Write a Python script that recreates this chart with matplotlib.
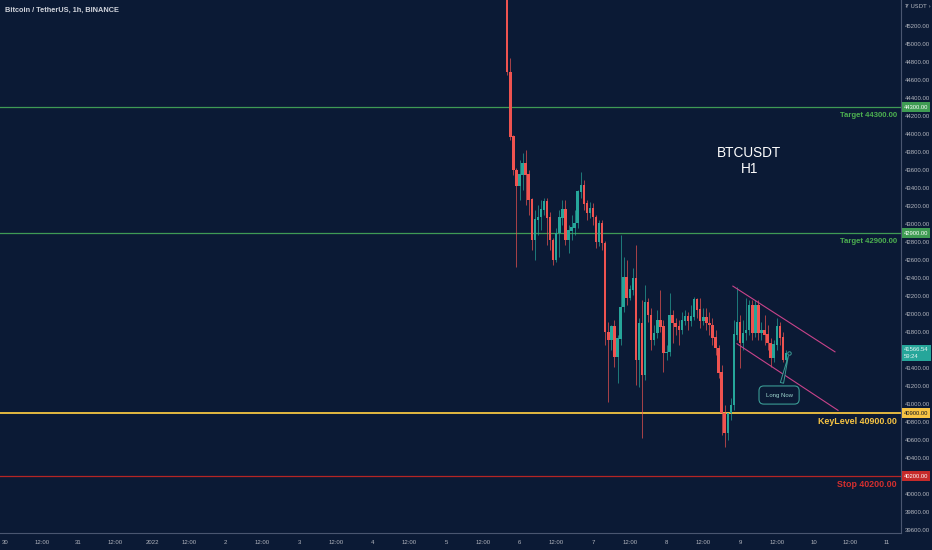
import numpy as np
import pandas as pd
import matplotlib
matplotlib.use("Agg")
import matplotlib.pyplot as plt
import matplotlib.dates as mdates
import matplotlib.transforms as mtransforms

# BTCUSDT 1h candles, Jan 5 20:00 -> Jan 9 15:00
first_open = 45820
closes = [44690, 43970, 43600, 43430, 43550, 43680, 43550, 43270, 42820, 43050,
          43080, 43160, 43250, 43070, 42820, 42600, 42900, 43070, 43160, 42820,
          42930, 42960, 43010, 43360, 43430, 43230, 43120, 43180, 43080, 42800,
          43010, 42790, 41800, 41710, 41860, 41520, 41730, 42080, 42410, 42180,
          42270, 42400, 41490, 41900, 41320, 42130, 41990, 41710, 41790, 41930,
          41860, 41570, 41580, 41990, 41900, 41860, 41820, 41930, 41970, 41930,
          41970, 42160, 42050, 41930, 41960, 41900, 41880, 41740, 41620, 41350,
          40900, 40680, 40900, 40990, 41770, 41910, 41680, 41790, 41820, 42100,
          41790, 42100, 41790, 41820, 41770, 41680, 41510, 41660, 41860, 41740,
          41490, 41566.54]
highs = [45930, 44850, 43990, 43620, 43710, 43790, 43820, 43600, 43290, 43160,
         43210, 43270, 43290, 43290, 43130, 42850, 42960, 43160, 43270, 43270,
         42990, 43100, 43160, 43380, 43580, 43490, 43270, 43250, 43230, 43100,
         43050, 43050, 42810, 41910, 41880, 41930, 41770, 42880, 42630, 42600,
         42320, 42510, 42770, 41960, 42160, 42320, 42180, 42070, 41880, 42050,
         42270, 41930, 41660, 42230, 42050, 41960, 41930, 42020, 42050, 42020,
         42100, 42190, 42180, 42180, 42070, 42070, 42020, 41960, 41820, 41660,
         41430, 40990, 40880, 41070, 41930, 42300, 41990, 41930, 42180, 42160,
         42160, 42160, 42160, 41910, 41990, 41880, 41730, 41710, 41960, 41910,
         41800, 41600]
lows = [44660, 43930, 43550, 42520, 43270, 43380, 43210, 43100, 42710, 42600,
        42880, 42930, 43100, 42770, 42710, 42550, 42580, 42630, 42990, 42770,
        42680, 42820, 42880, 42960, 43290, 43160, 43050, 43070, 42990, 42730,
        42760, 42710, 41660, 41020, 41600, 41410, 41230, 41660, 42020, 42100,
        42160, 42210, 41210, 41190, 40620, 41270, 41910, 41600, 41660, 41730,
        41800, 41360, 41490, 41530, 41680, 41770, 41660, 41780, 41880, 41820,
        41870, 41930, 41960, 41850, 41880, 41820, 41770, 41660, 41540, 41290,
        40660, 40520, 40600, 40820, 40930, 41710, 41400, 41600, 41710, 41770,
        41710, 41740, 41710, 41710, 41660, 41600, 41410, 41470, 41600, 41660,
        41470, 41470]
start_time = "2022-01-05 20:00"

# horizontal levels
level_prices = [44300, 42900, 40900, 40200]
level_labels = ["Target 44300.00", "Target 42900.00", "KeyLevel 40900.00", "Stop 40200.00"]
level_line_colors = ["#3f9a55", "#3f9a55", "#f4c542", "#b52525"]
level_text_colors = ["#4caf50", "#4caf50", "#f6c343", "#d32f2f"]
level_tag_bg = ["#3f9c53", "#3f9c53", "#f6c343", "#c62a2a"]
level_tag_fg = ["#ffffff", "#ffffff", "#131722", "#ffffff"]

# descending channel drawn on the chart (time, price)
channel_top = [("2022-01-08 21:40", 42310), ("2022-01-10 07:00", 41580)]
channel_bot = [("2022-01-08 23:00", 41670), ("2022-01-10 08:00", 40930)]

day_labels = ["30", "31", "2022", "2", "3", "4", "5", "6", "7", "8", "9", "10", "11"]
axis_start = pd.Timestamp("2021-12-30")
hidden_ticks = [41600, 40200]   # covered by the price tags

BG = "#0b1a35"
UP = "#26a69a"
DOWN = "#ef5350"
TXT = "#b2b5be"
FONT = ["Liberation Sans", "DejaVu Sans"]

times = pd.date_range(start_time, periods=len(closes), freq="h")
xs = mdates.date2num(times)
closes = np.array(closes)
opens = np.r_[first_open, closes[:-1]]
highs = np.array(highs)
lows = np.array(lows)

fig = plt.figure(figsize=(9.32, 5.5), dpi=100, facecolor=BG)
ax = fig.add_axes([0, 17 / 550, 901 / 932, 533 / 550], facecolor=BG)

up = closes >= opens
colors = np.where(up, UP, DOWN)
bw = 0.8 / 24
ax.vlines(xs, lows, highs, colors=colors, linewidth=0.6, alpha=0.8, zorder=3)
ax.bar(xs, np.abs(closes - opens) + 6, bottom=np.minimum(opens, closes) - 3,
       width=bw, color=colors, linewidth=0, zorder=4)

# level lines, labels and price tags
blend = mtransforms.blended_transform_factory(ax.transAxes, ax.transData)
for price, label, lc, tc, tbg, tfg in zip(level_prices, level_labels, level_line_colors,
                                          level_text_colors, level_tag_bg, level_tag_fg):
    big = not label.startswith("Target")
    ax.axhline(price, color=lc, linewidth=1.3 if label.startswith("KeyLevel") else 0.9, zorder=2)
    ax.annotate(label, xy=(0.9956, price), xycoords=blend, xytext=(0, -6),
                textcoords="offset points", ha="right", va="center", color=tc,
                fontsize=6.4 if big else 5.6, fontweight="bold", family=FONT)
    ax.text(1.0033, price, f"{price:.2f}", transform=blend, ha="left", va="center",
            fontsize=4.2, color=tfg, zorder=6, clip_on=False, family=FONT,
            bbox=dict(boxstyle="square,pad=0.35", fc=tbg, ec="none"))

# current price tag
last = closes[-1]
ax.text(1.0033, last, f"{last:.2f}\n59:24", transform=blend, ha="left", va="center",
        fontsize=4.2, color="#e8f5f3", linespacing=1.3, clip_on=False, zorder=6,
        family=FONT, bbox=dict(boxstyle="square,pad=0.4", fc=UP, ec="none"))

# channel lines
for seg in (channel_top, channel_bot):
    tx = mdates.date2num(pd.to_datetime([p[0] for p in seg]))
    ax.plot(tx, [p[1] for p in seg], color="#c8438a", linewidth=0.8, zorder=5)

# Long Now callout
tip = (xs[-1] + 1 / 24, last)
ax.annotate("Long Now", xy=tip,
            xytext=(mdates.date2num(pd.Timestamp("2022-01-09 12:45")), 41100),
            ha="center", va="center", fontsize=4.3, color="#9fd8d0", zorder=7,
            family=FONT,
            bbox=dict(boxstyle="round,pad=1.1,rounding_size=0.8", fc=BG, ec="#3a9a94", lw=0.8),
            arrowprops=dict(arrowstyle="wedge,tail_width=0.55,shrink_factor=0.5",
                            fc=BG, ec="#3a9a94", lw=0.7))
ax.plot(*tip, marker="o", markersize=2.5, mfc=BG, mec="#3a9a94", mew=0.7, zorder=8)

# symbol text
ax.text(mdates.date2num(pd.Timestamp("2022-01-09 03:00")), 43700, "BTCUSDT\nH1",
        ha="center", va="center", fontsize=9.8, color="#ffffff",
        linespacing=1.1, family=FONT)

fig.text(5 / 932, 1 - 10 / 550, "Bitcoin / TetherUS, 1h, BINANCE", fontsize=5.3,
         color="#d1d4dc", ha="left", va="center", fontweight="bold", family=FONT)

# axes
x0 = mdates.date2num(axis_start)
ax.set_xlim(x0 - 0.068, x0 + 12.19)
ax.set_ylim(39567, 45489)

days = [axis_start + pd.Timedelta(days=d) for d in range(len(day_labels))]
ticks, labels = [], []
for d, lab in zip(days, day_labels):
    ticks += [mdates.date2num(d), mdates.date2num(d + pd.Timedelta(hours=12))]
    labels += [lab, "12:00"]
ax.set_xticks(ticks[:-1])
ax.set_xticklabels(labels[:-1])

ax.yaxis.tick_right()
yt = np.arange(39600, 45201, 200)
ax.set_yticks(yt)
ax.set_yticklabels(["" if v in hidden_ticks else f"{v:.2f}" for v in yt])
ax.tick_params(axis="both", length=0, labelsize=4.3, colors=TXT)
ax.tick_params(axis="x", pad=5)
ax.tick_params(axis="y", pad=3)
for lab in ax.get_xticklabels() + ax.get_yticklabels():
    lab.set_family(FONT)

for side in ("top", "left"):
    ax.spines[side].set_visible(False)
for side in ("right", "bottom"):
    ax.spines[side].set_color("#4a5670")
    ax.spines[side].set_linewidth(0.8)

fig.text(905 / 932, 1 - 7 / 550, "\u20ae USDT \u203a", fontsize=4.2, color=TXT,
         ha="left", va="center", family=["DejaVu Sans"])

fig.savefig("out.png", dpi=100, facecolor=BG)
